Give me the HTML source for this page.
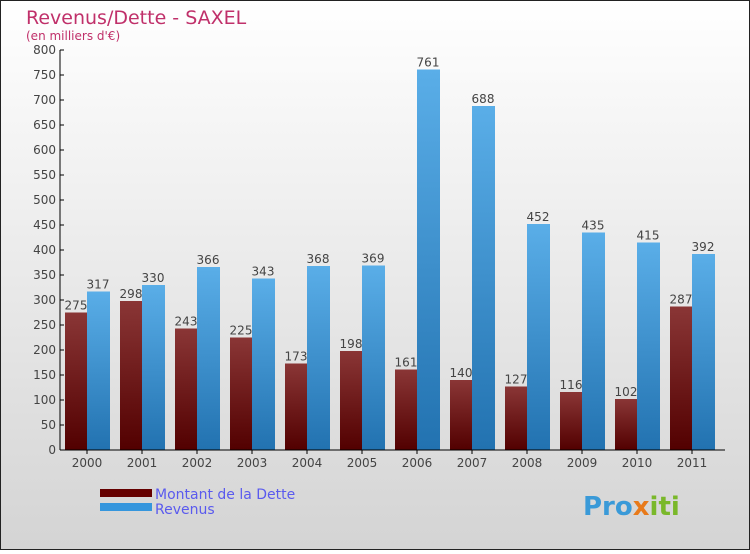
<!DOCTYPE html>
<html><head><meta charset="utf-8"><style>
body{margin:0}
#c{width:750px;height:550px;position:relative;font-family:"DejaVu Sans","Liberation Sans",sans-serif}
</style></head><body>
<div id="c">
<svg width="750" height="550" xmlns="http://www.w3.org/2000/svg" id="svg">
<defs>
<linearGradient id="bg" x1="0" y1="0" x2="0" y2="1"><stop offset="0" stop-color="#ffffff"/><stop offset="1" stop-color="#d4d4d4"/></linearGradient>
<linearGradient id="gd" x1="0" y1="0" x2="0" y2="1"><stop offset="0" stop-color="#8a3636"/><stop offset="1" stop-color="#520000"/></linearGradient>
<linearGradient id="gr" x1="0" y1="0" x2="0" y2="1"><stop offset="0" stop-color="#5aaee8"/><stop offset="1" stop-color="#2272b0"/></linearGradient>
</defs>
<rect x="0.5" y="0.5" width="749" height="549" fill="url(#bg)" stroke="#222"/>
<text x="26" y="24" font-size="19" fill="#c0306a">Revenus/Dette - SAXEL</text>
<text x="26" y="40" font-size="12" fill="#c0306a">(en milliers d'€)</text>
<g id="plot"></g>
<rect x="100" y="489" width="52" height="8" fill="#650000"/>
<rect x="100" y="503" width="52" height="8" fill="#3596dd"/>
<text x="155" y="499" font-size="14" fill="#5a5aee">Montant de la Dette</text>
<text x="155" y="514" font-size="14" fill="#5a5aee">Revenus</text>
<text x="583" y="515" font-size="26" font-weight="bold" fill="#3a9ad8">Pro<tspan fill="#e87a1a">x</tspan><tspan fill="#7ab82a">iti</tspan></text>
</svg>
</div>
<script>
const years=["2000","2001","2002","2003","2004","2005","2006","2007","2008","2009","2010","2011"];
const dette=[275,298,243,225,173,198,161,140,127,116,102,287];
const revenus=[317,330,366,343,368,369,761,688,452,435,415,392];
const yTicks=[0,50,100,150,200,250,300,350,400,450,500,550,600,650,700,750,800];
const NS="http://www.w3.org/2000/svg";
const g=document.getElementById('plot');
const x0=60,y0=450,yScale=v=>y0-v*0.5,gx=i=>x0+5+i*55;
function mk(t,a,txt){const e=document.createElementNS(NS,t);for(const k in a)e.setAttribute(k,a[k]);if(txt!==undefined)e.textContent=txt;g.appendChild(e);return e;}
yTicks.forEach(v=>{const y=yScale(v);
const t=mk('line',{x1:x0,x2:x0+4,y1:y,y2:y,stroke:'#000'});

const l=mk('text',{x:x0-4,y:y+4,'font-size':12,'text-anchor':'end',fill:'#444'},v);
});
years.forEach((yr,i)=>{const x=gx(i);
const a=mk('rect',{x:x,y:yScale(dette[i]),width:22,height:dette[i]*0.5,fill:'url(#gd)'});

const b=mk('rect',{x:x+22,y:yScale(revenus[i]),width:23,height:revenus[i]*0.5,fill:'url(#gr)'});

const la=mk('text',{x:x+11,y:yScale(dette[i])-3,'font-size':12,'text-anchor':'middle',fill:'#444'},dette[i]);

const lb=mk('text',{x:x+33,y:yScale(revenus[i])-3,'font-size':12,'text-anchor':'middle',fill:'#444'},revenus[i]);

const tk=mk('line',{x1:x+22,x2:x+22,y1:y0,y2:y0+4,stroke:'#000'});

const xl=mk('text',{x:x+22,y:y0+17,'font-size':12,'text-anchor':'middle',fill:'#444'},yr);
});
const ya=mk('line',{x1:x0,x2:x0,y1:50,y2:y0,stroke:'#000'});

const xa=mk('line',{x1:x0,x2:725,y1:y0,y2:y0,stroke:'#000'});

</script>
</body></html>
